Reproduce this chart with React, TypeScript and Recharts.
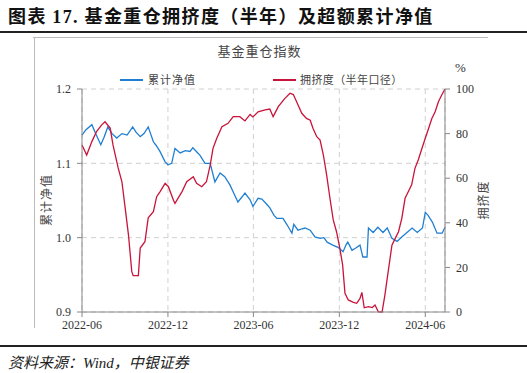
import React from 'react';
import { LineChart, Line, XAxis, YAxis, CartesianGrid } from 'recharts';

// 超额累计净值 (left axis)
const navDates = [
  '2022-06-01', '2022-06-09', '2022-06-22', '2022-06-30', '2022-07-11', '2022-07-18', '2022-07-26', '2022-08-04',
  '2022-08-14', '2022-08-25', '2022-09-05', '2022-09-17', '2022-09-24', '2022-10-03', '2022-10-11', '2022-10-20',
  '2022-10-31', '2022-11-06', '2022-11-14', '2022-11-25', '2022-12-01', '2022-12-09', '2022-12-16', '2022-12-27',
  '2023-01-07', '2023-01-17', '2023-01-23', '2023-02-01', '2023-02-07', '2023-02-18', '2023-03-01', '2023-03-11',
  '2023-03-22', '2023-04-01', '2023-04-12', '2023-04-20', '2023-04-29', '2023-05-08', '2023-05-14', '2023-05-25',
  '2023-05-31', '2023-06-11', '2023-06-19', '2023-06-28', '2023-07-06', '2023-07-15', '2023-07-21', '2023-08-03',
  '2023-08-12', '2023-08-22', '2023-08-26', '2023-09-04', '2023-09-13', '2023-09-19', '2023-09-30', '2023-10-10',
  '2023-10-21', '2023-10-29', '2023-11-05', '2023-11-17', '2023-11-28', '2023-12-09', '2023-12-15', '2023-12-19',
  '2023-12-28', '2024-01-05', '2024-01-14', '2024-01-20', '2024-01-29', '2024-02-01', '2024-02-11', '2024-02-21',
  '2024-03-03', '2024-03-12', '2024-03-22', '2024-04-02', '2024-04-12', '2024-04-23', '2024-05-04', '2024-05-15',
  '2024-05-26', '2024-06-01', '2024-06-07', '2024-06-16', '2024-06-26', '2024-07-07', '2024-07-13',
];
const navValues = [
  1.138, 1.145, 1.152, 1.140, 1.125, 1.135, 1.149, 1.140,
  1.134, 1.140, 1.138, 1.149, 1.142, 1.136, 1.140, 1.149,
  1.129, 1.124, 1.116, 1.102, 1.098, 1.100, 1.120, 1.114,
  1.117, 1.116, 1.121, 1.115, 1.111, 1.100, 1.100, 1.075,
  1.087, 1.082, 1.071, 1.060, 1.048, 1.055, 1.060, 1.051,
  1.042, 1.053, 1.052, 1.046, 1.040, 1.030, 1.026, 1.026,
  1.017, 1.006, 1.018, 1.010, 1.012, 1.013, 1.010, 1.001,
  0.999, 1.000, 0.994, 0.990, 0.987, 0.981, 0.990, 0.994,
  0.983, 0.986, 0.990, 0.974, 0.974, 1.013, 1.007, 1.014,
  1.007, 1.013, 0.999, 0.995, 1.001, 1.007, 1.013, 1.007,
  1.013, 1.034, 1.030, 1.021, 1.006, 1.006, 1.014,
];

// 拥挤度（半年口径）, % (right axis)
const crowdDates = [
  '2022-06-01', '2022-06-11', '2022-06-22', '2022-07-02', '2022-07-13', '2022-07-20', '2022-07-31', '2022-08-06',
  '2022-08-17', '2022-08-25', '2022-09-01', '2022-09-08', '2022-09-15', '2022-09-18', '2022-09-29', '2022-10-03',
  '2022-10-13', '2022-10-20', '2022-10-31', '2022-11-07', '2022-11-14', '2022-11-25', '2022-12-02', '2022-12-13',
  '2022-12-16', '2022-12-31', '2023-01-10', '2023-01-24', '2023-01-31', '2023-02-11', '2023-02-21', '2023-03-01',
  '2023-03-07', '2023-03-15', '2023-03-26', '2023-04-08', '2023-04-19', '2023-05-03', '2023-05-14', '2023-05-25',
  '2023-05-31', '2023-06-11', '2023-06-26', '2023-07-06', '2023-07-13', '2023-07-24', '2023-08-07', '2023-08-18',
  '2023-08-25', '2023-09-01', '2023-09-12', '2023-09-22', '2023-09-30', '2023-10-06', '2023-10-14', '2023-10-21',
  '2023-10-28', '2023-11-04', '2023-11-11', '2023-11-18', '2023-11-25', '2023-12-02', '2023-12-08', '2023-12-13',
  '2023-12-20', '2023-12-31', '2024-01-07', '2024-01-14', '2024-01-18', '2024-01-23', '2024-02-01', '2024-02-09',
  '2024-02-15', '2024-02-22', '2024-03-01', '2024-03-07', '2024-03-14', '2024-03-22', '2024-03-29', '2024-04-05',
  '2024-04-12', '2024-04-19', '2024-04-26', '2024-05-03', '2024-05-10', '2024-05-17', '2024-05-25', '2024-06-01',
  '2024-06-08', '2024-06-15', '2024-06-22', '2024-06-29', '2024-07-06', '2024-07-13',
];
const crowdValues = [
  74.9, 70.4, 76.4, 80.9, 83.9, 85.3, 82.5, 74.9,
  64.6, 58.4, 46.6, 34.5, 18.1, 16.3, 16.3, 28.7,
  31.5, 42.2, 45.0, 51.7, 53.9, 57.7, 56.2, 50.0,
  48.7, 54.0, 58.4, 60.7, 57.7, 56.2, 58.4, 65.9,
  73.4, 77.9, 83.1, 84.6, 87.6, 87.6, 85.7, 88.6,
  87.5, 89.8, 90.6, 91.0, 87.6, 92.1, 95.8, 98.1,
  97.5, 94.3, 89.1, 86.8, 86.0, 82.3, 78.6, 77.1,
  70.4, 61.4, 51.0, 41.3, 36.0, 28.6, 21.1, 8.4,
  5.4, 4.3, 3.9, 6.1, 8.8, 1.9, 2.4, 2.0,
  3.1, 0.1, 0.0, 7.6, 18.1, 30.0, 33.0, 36.0,
  42.0, 51.0, 54.0, 57.0, 64.4, 68.2, 73.4, 77.9,
  82.3, 86.8, 89.8, 94.3, 97.3, 100.0,
];

const tickDates = ['2022-06-01', '2022-12-01', '2023-06-01', '2023-12-01', '2024-06-01'];
const tickLabels = ['2022-06', '2022-12', '2023-06', '2023-12', '2024-06'];
const navTicks = [0.9, 1.0, 1.1, 1.2];
const crowdTicks = [0, 20, 40, 60, 80, 100];

const toTime = (d: string) => Date.parse(d + 'T00:00:00Z');

// merge both series onto one time axis
const byTime = new Map<number, { t: number; nav?: number; crowd?: number }>();
navDates.forEach((d, i) => {
  const t = toTime(d);
  const r = byTime.get(t) ?? { t };
  r.nav = navValues[i];
  byTime.set(t, r);
});
crowdDates.forEach((d, i) => {
  const t = toTime(d);
  const r = byTime.get(t) ?? { t };
  r.crowd = crowdValues[i];
  byTime.set(t, r);
});
const rows = Array.from(byTime.values()).sort((a, b) => a.t - b.t);

const xTicks = tickDates.map(toTime);
const xStart = toTime(navDates[0]);
const xEnd = toTime(navDates[navDates.length - 1]);

const BLUE = '#1f7fd2';
const RED = '#c8143a';
const SERIF = '"Liberation Serif", "Times New Roman", serif';
const CJK = '"Noto Sans CJK SC", sans-serif';

const tickStyle = { fill: '#333', fontSize: 12, fontFamily: SERIF };

export default function App() {
  return (
    <div style={{ position: 'fixed', left: 0, top: 0, width: 527, height: 373, background: '#fff', overflow: 'hidden' }}>
      <div style={{ position: 'absolute', left: 8, top: 2, fontFamily: CJK, fontWeight: 700, fontSize: 18, color: '#111', whiteSpace: 'nowrap', letterSpacing: 1.4 }}>
        图表 <span style={{ fontFamily: SERIF }}>17.</span> 基金重仓拥挤度（半年）及超额累计净值
      </div>
      <div style={{ position: 'absolute', left: 0, top: 31, width: 527, height: 1.5, background: '#222' }} />
      <div style={{ position: 'absolute', left: 33, top: 37, width: 455, height: 1, background: '#bbb' }} />
      <div style={{ position: 'absolute', left: 34, top: 37, width: 1, height: 291, background: '#bbb' }} />

      <LineChart
        width={527}
        height={373}
        data={rows}
        margin={{ top: 89, right: 42, bottom: 31, left: 42 }}
        style={{ position: 'absolute', left: 0, top: 0 }}
      >
        <CartesianGrid yAxisId="nav" stroke="#d0d0d0" strokeDasharray="5 4" />
        <XAxis
          dataKey="t"
          type="number"
          domain={[xStart, xEnd]}
          ticks={xTicks}
          tickFormatter={(v: number) => tickLabels[xTicks.indexOf(v)] ?? ''}
          height={30}
          tick={tickStyle}
          tickSize={5}
          tickMargin={3}
          stroke="#888"
          interval={0}
        />
        <YAxis
          yAxisId="nav"
          domain={[0.9, 1.2]}
          ticks={navTicks}
          tickFormatter={(v: number) => v.toFixed(1)}
          width={40}
          tick={tickStyle}
          tickSize={5}
          tickMargin={6}
          stroke="#888"
          allowDataOverflow
        />
        <YAxis
          yAxisId="crowd"
          orientation="right"
          domain={[0, 100]}
          ticks={crowdTicks}
          width={40}
          tick={tickStyle}
          tickSize={5}
          tickMargin={6}
          stroke="#888"
        />
        <Line yAxisId="nav" dataKey="nav" stroke={BLUE} strokeWidth={1.3} dot={false} connectNulls isAnimationActive={false} />
        <Line yAxisId="crowd" dataKey="crowd" stroke={RED} strokeWidth={1.3} dot={false} connectNulls isAnimationActive={false} />
      </LineChart>

      <div style={{ position: 'absolute', left: 0, width: 527, top: 41, textAlign: 'center', fontFamily: CJK, fontSize: 13, color: '#444', letterSpacing: 1 }}>
        <span style={{ position: 'relative', left: -4 }}>基金重仓指数</span>
      </div>

      <div style={{ position: 'absolute', left: 120, top: 79, width: 23, height: 1.5, background: BLUE }} />
      <div style={{ position: 'absolute', left: 148, top: 71, fontFamily: CJK, fontSize: 11, color: '#444', letterSpacing: 1 }}>累计净值</div>
      <div style={{ position: 'absolute', left: 273, top: 79, width: 23, height: 1.5, background: RED }} />
      <div style={{ position: 'absolute', left: 300, top: 71, fontFamily: CJK, fontSize: 11, color: '#444', letterSpacing: 0.4 }}>拥挤度（半年口径）</div>

      <div style={{ position: 'absolute', left: 455, top: 60, fontFamily: SERIF, fontSize: 13, color: '#333' }}>%</div>

      <div style={{ position: 'absolute', left: 45, top: 200, transform: 'translate(-50%, -50%) rotate(-90deg)', fontFamily: CJK, fontSize: 12, color: '#444', whiteSpace: 'nowrap', letterSpacing: 1 }}>
        累计净值
      </div>
      <div style={{ position: 'absolute', left: 482, top: 200, transform: 'translate(-50%, -50%) rotate(-90deg)', fontFamily: CJK, fontSize: 12, color: '#444', whiteSpace: 'nowrap', letterSpacing: 1 }}>
        拥挤度
      </div>

      <div style={{ position: 'absolute', left: 0, top: 345, width: 527, height: 1.5, background: '#222' }} />
      <div style={{ position: 'absolute', left: 8, top: 351, fontFamily: CJK, fontSize: 15, fontStyle: 'italic', color: '#222', whiteSpace: 'nowrap' }}>
        资料来源：<span style={{ fontFamily: SERIF }}>Wind</span>，中银证券
      </div>
    </div>
  );
}
